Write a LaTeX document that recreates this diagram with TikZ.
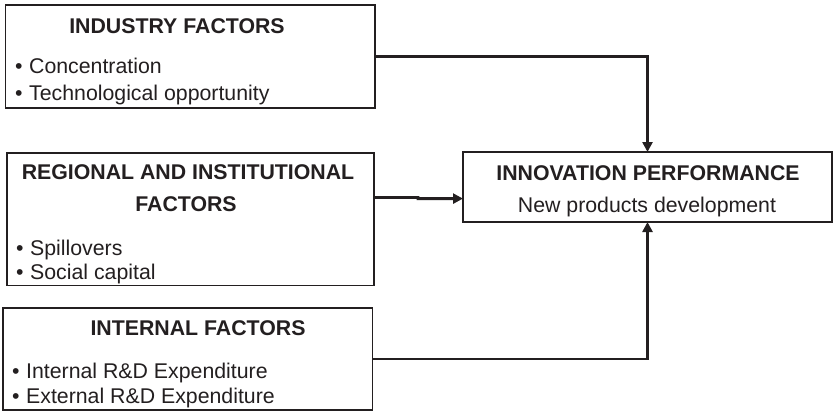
\documentclass[tikz,border=0pt]{standalone}
\usepackage{fontspec}
\setmainfont{Liberation Sans}
\usetikzlibrary{arrows.meta}
\definecolor{ink}{HTML}{231F20}
\newcommand\bulletitem[1]{•\hspace{6.5pt}#1}
\begin{document}
\begin{tikzpicture}[x=1pt,y=-1pt,
  box/.style={draw=ink, line width=1.8pt, fill=white, inner sep=0pt, outer sep=0pt},
  head/.style={text=ink, inner sep=0pt, anchor=base, font=\fontsize{21.3}{25}\selectfont\bfseries},
  item/.style={text=ink, inner sep=0pt, anchor=base west, font=\fontsize{21.3}{25}\selectfont},
  plain/.style={text=ink, inner sep=0pt, anchor=base, font=\fontsize{21.3}{25}\selectfont},
  link/.style={draw=ink, line width=2.8pt},
  arrowlink/.style={link, -{Triangle[length=10pt,width=10pt]}}]
\useasboundingbox (0,0) rectangle (834,412);

% source boxes
\node[box, minimum width=369.5pt, minimum height=103pt] (ind) at (190.25,56.5) {};
\node[box, minimum width=367pt, minimum height=132.5pt] (reg) at (190.5,219.25) {};
\node[box, minimum width=369.5pt, minimum height=102pt] (int) at (187.75,359) {};
% outcome box
\node[box, minimum width=369pt, minimum height=70pt] (inno) at (647.5,187) {};

% industry factors
\node[head] (indh) at (177,34) {INDUSTRY FACTORS};
\node[item] (ind1) at (15,74) {\bulletitem{Concentration}};
\node[item] (ind2) at (15,100) {\bulletitem{Technological opportunity}};

% regional and institutional factors
\node[head] (regh1) at (188,179) {REGIONAL AND INSTITUTIONAL};
\node[head] (regh2) at (186,211) {FACTORS};
\node[item] (reg1) at (16,255) {\bulletitem{Spillovers}};
\node[item] (reg2) at (16,279) {\bulletitem{Social capital}};

% internal factors
\node[head] (inth) at (198,335) {INTERNAL FACTORS};
\node[item] (int1) at (12,378) {\bulletitem{Internal R\&D Expenditure}};
\node[item] (int2) at (12,403) {\bulletitem{External R\&D Expenditure}};

% innovation performance
\node[head] (innoh) at (648,180) {INNOVATION PERFORMANCE};
\node[plain] (inno1) at (647,212) {New products development};

% connectors
\draw[arrowlink] (ind.east) -| (inno.north);
\coordinate (rj) at (418,197.4);
\draw[arrowlink] (reg.east |- rj) -- (rj) -- ++(0,1.2) -- (inno.west |- 0,198.6);
\draw[arrowlink] (int.east) -| (inno.south);
\end{tikzpicture}
\end{document}
